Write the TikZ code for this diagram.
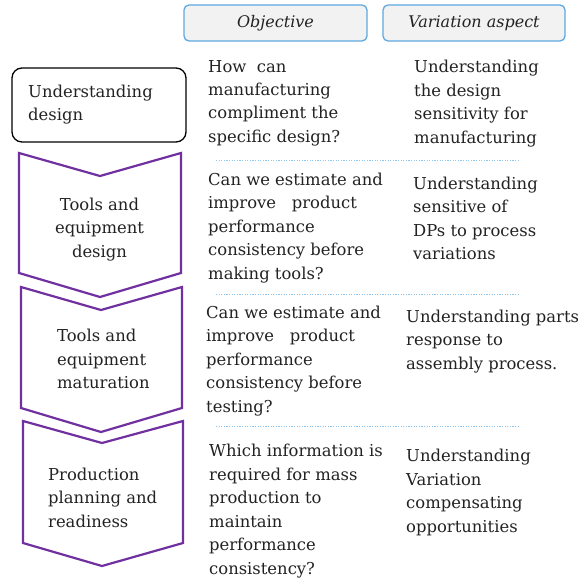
\documentclass[tikz,border=0pt]{standalone}
\usepackage{fontspec}
\setmainfont{DejaVu Serif}
\definecolor{chev}{HTML}{7030A0}
\definecolor{hdrline}{HTML}{5FA8E0}
\definecolor{hdrfill}{HTML}{F2F2F2}
\definecolor{sep}{HTML}{8EC8F0}
\definecolor{txt}{HTML}{222222}
\newcommand\mylinesl[1]{\begin{tabular}[t]{@{}l@{}}#1\end{tabular}}
\newcommand\mylinesc[1]{\begin{tabular}[t]{@{}c@{}}#1\end{tabular}}
\begin{document}
\begin{tikzpicture}[x=1pt,y=-1pt,
  hdr/.style={draw=hdrline,fill=hdrfill,line width=1.3pt,rounded corners=5pt},
  hdrtxt/.style={font=\fontsize{16}{23.5}\selectfont\itshape,text=txt},
  chevron/.style={draw=chev,line width=2.2pt,line join=miter},
  body/.style={font=\fontsize{16.4}{23.5}\selectfont,text=txt,anchor=base west,inner sep=0pt},
  bodyc/.style={font=\fontsize{16.4}{23.5}\selectfont,text=txt,anchor=base,inner sep=0pt},
  sepline/.style={draw=sep,line width=0.9pt,dash pattern=on 1.2pt off 1.4pt}]
\useasboundingbox (0,0) rectangle (586,578);
% headers
\draw[hdr] (184,5) rectangle (367,41);
\node[hdrtxt] (hobj) at (275.5,23) {Objective};
\draw[hdr] (383,5) rectangle (565,41);
\node[hdrtxt] (hvar) at (474,23) {Variation aspect};
% first box
\draw[draw=black,line width=1.3pt,rounded corners=10pt] (12,68) rectangle (186,142);
\node[body] (s1) at (28,97) {\mylinesl{Understanding\\design}};
% chevrons
\draw[chevron] (19,153) -- (100,176) -- (181,153) -- (181,273) -- (100,297) -- (19,273) -- cycle;
\node[bodyc] (s2) at (99.5,210) {\mylinesc{Tools and\\equipment\\design}};
\draw[chevron] (21,287) -- (101,310) -- (182,287) -- (182,408) -- (101,432) -- (21,408) -- cycle;
\node[body] (s3) at (57,341.7) {\mylinesl{Tools and\\equipment\\maturation}};
\draw[chevron] (23,421) -- (102,443) -- (183,421) -- (183,543) -- (102,566) -- (23,543) -- cycle;
\node[body] (s4) at (48,480) {\mylinesl{Production\\planning and\\readiness}};
% separators
\draw[sepline] (216,160) -- (518,160);
\draw[sepline] (216,294) -- (518,294);
\draw[sepline] (216,426) -- (518,426);
% objective column
\node[body] (o1) at (208,72) {\mylinesl{How\ \ can\\manufacturing\\compliment the\\specific design?}};
\node[body] (o2) at (208,185) {\mylinesl{Can we estimate and\\improve\ \ \ product\\performance\\consistency before\\making tools?}};
\node[body] (o3) at (206,318.3) {\mylinesl{Can we estimate and\\improve\ \ \ product\\performance\\consistency before\\testing?}};
\node[body] (o4) at (209,456.7) {\mylinesl{Which information is\\required for mass\\production to\\maintain\\performance\\consistency?}};
% variation column
\node[body] (v1) at (414,72.7) {\mylinesl{Understanding\\the design\\sensitivity for\\manufacturing}};
\node[body] (v2) at (413,189) {\mylinesl{Understanding\\sensitive of\\DPs to process\\variations}};
\node[body] (v3) at (406,322) {\mylinesl{Understanding parts\\response to\\assembly process.}};
\node[body] (v4) at (406,461.7) {\mylinesl{Understanding\\Variation\\compensating\\opportunities}};
\end{tikzpicture}
\end{document}
